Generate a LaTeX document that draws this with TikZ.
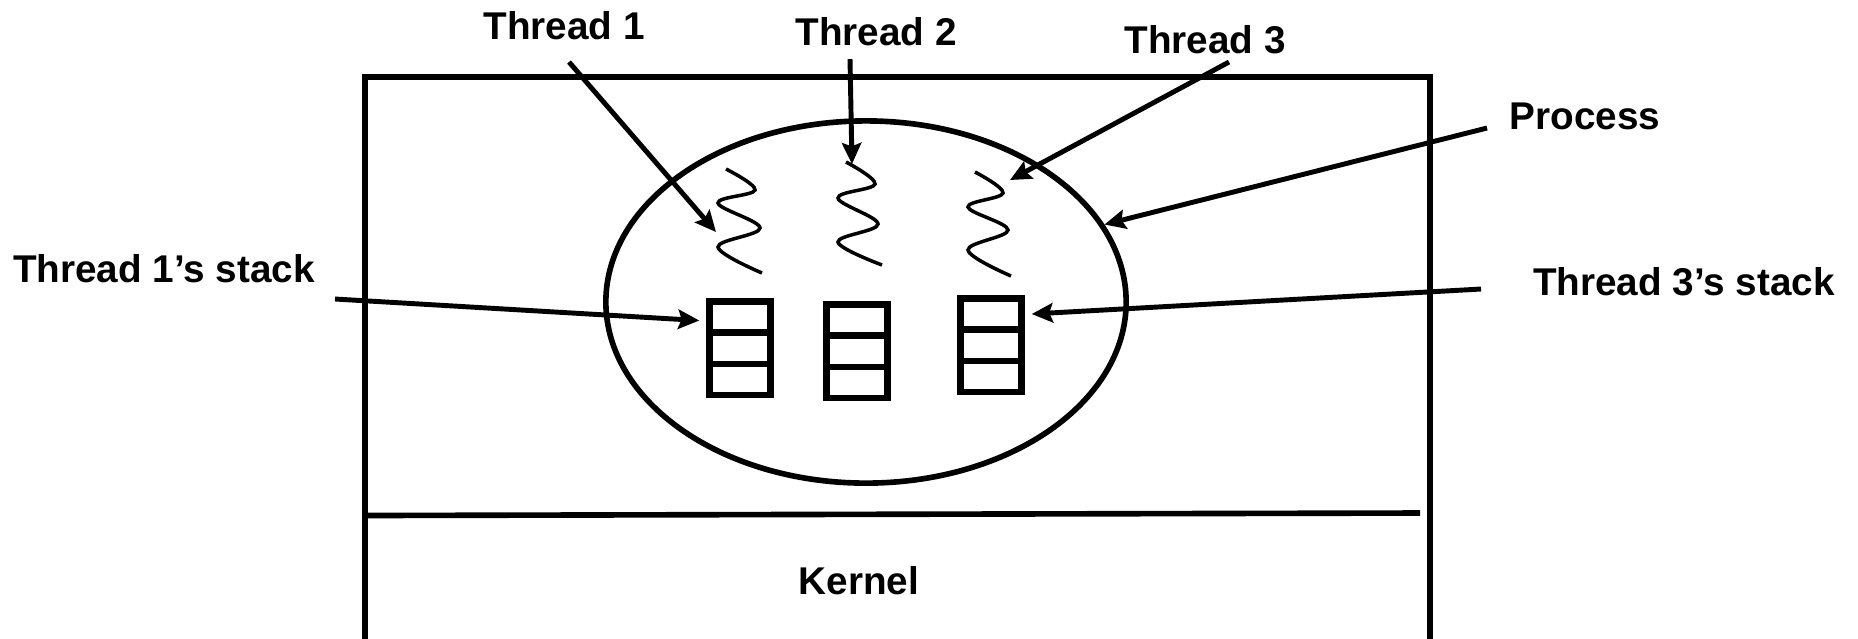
\documentclass[tikz,border=0pt]{standalone}
\usepackage{fontspec}
\setmainfont{Liberation Sans}
\usetikzlibrary{arrows.meta, shapes.geometric}

\begin{document}
\begin{tikzpicture}[x=0.01cm, y=-0.01cm, >={Stealth[length=6pt,width=5.5pt,inset=1pt]},
  font=\bfseries\fontsize{11}{13}\selectfont,
  lbl/.style={inner sep=0pt},
  ptr/.style={->, line width=1.4pt},
  cell/.style={draw, line width=1.8pt, minimum width=0.61cm, minimum height=0.313cm, inner sep=0pt},
  wiggle/.style={line width=1pt}]
\useasboundingbox (0,0) rectangle (1858,638);
% address space and kernel
\draw[line width=1.7pt] (365,645) -- (365,77) -- (1430,77) -- (1430,645);
\coordinate (kl) at (367,515.5);
\coordinate (kr) at (1420,513);
\draw[line width=1.6pt] (kl) -- (kr);
\node[lbl] (kernel) at (859,581) {Kernel};
\node[draw, ellipse, line width=1.6pt, minimum width=5.2cm, minimum height=3.62cm, inner sep=0pt] (proc) at (866,302) {};
% stacks
\foreach \s/\x/\y in {1/740/317, 2/857/320, 3/991/314}
  \foreach \k in {0,1,2}
    \node[cell] (st\s\k) at (\x,{\y+31.3*\k}) {};
% threads
\draw[wiggle] plot[smooth, tension=0.6] coordinates {(726,169) (755,190) (718,203) (760,228) (718,247) (762,273)};
\draw[wiggle] plot[smooth, tension=0.6] coordinates {(846,162) (875,184) (838,198) (878,224) (838,242) (882,265)};
\draw[wiggle] plot[smooth, tension=0.6] coordinates {(975,172) (1003,193) (968,207) (1008,230) (968,250) (1011,276)};
% labels
\node[lbl] (t1) at (564,26) {Thread 1};
\node[lbl] (t2) at (876,32) {Thread 2};
\node[lbl] (t3) at (1205,40) {Thread 3};
\node[lbl] (pl) at (1585,116) {Process};
\node[lbl] (s1l) at (164,269) {Thread 1's stack};
\node[lbl] (s3l) at (1684,282) {Thread 3's stack};
\coordinate (t1a) at (569,62);
\coordinate (t1b) at (716,232);
\coordinate (t2a) at (850,59);
\coordinate (t2b) at (852,164);
\coordinate (t3a) at (1229,62);
\coordinate (t3b) at (1010,180);
\coordinate (pla) at (1487,128);
\coordinate (s1a) at (335,299);
\coordinate (s3a) at (1481,289);
\draw[ptr] (t1a) -- (t1b);
\draw[ptr] (t2a) -- (t2b);
\draw[ptr] (t3a) -- (t3b);
\draw[ptr] (pla) -- (proc.18);
\draw[ptr] (s1a) -- ([xshift=-2pt,yshift=-1pt]st10.west);
\draw[ptr] (s3a) -- ([xshift=2pt]st30.east);
\end{tikzpicture}
\end{document}
